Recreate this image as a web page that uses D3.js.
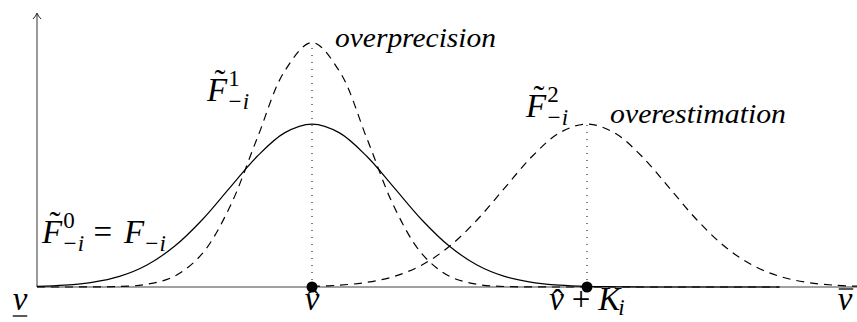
<!DOCTYPE html>
<html>
<head>
<meta charset="utf-8">
<script src="https://cdn.jsdelivr.net/npm/d3@7"></script>
</head>
<body style="margin:0">
<svg class="chart" width="857" height="322"></svg>
<script>
// sample points along the value axis (v, scaled so v_ = 0, v^ = 1, v^+K = 2)
var grid = [0, 0.1, 0.2, 0.3, 0.4, 0.5, 0.6, 0.7, 0.8, 0.9, 1.0, 1.1, 1.2, 1.3, 1.4, 1.5,
    1.6, 1.7, 1.8, 1.9, 2.0, 2.1, 2.2, 2.3, 2.4, 2.5, 2.6, 2.7, 2.8, 2.9, 3.0];

// F~0 = F (true belief), solid, on grid[0..27]
var trueBelief = [0.005, 0.015, 0.038, 0.087, 0.180, 0.332, 0.547, 0.807, 1.065, 1.258, 1.330,
    1.258, 1.065, 0.807, 0.547, 0.332, 0.180, 0.087, 0.038, 0.015, 0.005, 0.002, 0, 0, 0, 0, 0, 0];

// F~1 overprecision, dashed, on grid[0..27]
var overprecision = [0, 0, 0.001, 0.004, 0.022, 0.088, 0.270, 0.648, 1.210, 1.760, 1.995,
    1.760, 1.210, 0.648, 0.270, 0.088, 0.022, 0.004, 0.001, 0, 0, 0, 0, 0, 0, 0, 0, 0];

// F~2 overestimation, dashed, on grid[10..30]
var overestimation = [0.005, 0.015, 0.038, 0.087, 0.180, 0.332, 0.547, 0.807, 1.065, 1.258, 1.330,
    1.258, 1.065, 0.807, 0.547, 0.332, 0.180, 0.087, 0.038, 0.015, 0.005];

// marked points on the axis
var markValues = [1, 2];
var peakValues = [1.995, 1.330];

var width = 857,
    x0 = 37, y0 = 287,
    svg, x, y, line, series;

svg = d3.select('.chart');

x = d3.scaleLinear().domain([0, 3]).range([x0, x0 + 825]);
y = d3.scaleLinear().domain([0, 2.22]).range([y0, 15]);

line = d3.line()
    .x(function (d) { return x(d[0]); })
    .y(function (d) { return y(d[1]); })
    .curve(d3.curveCatmullRom);

function pairs(xs, ys, offset) {
    return ys.map(function (v, i) { return [xs[i + offset], v]; });
}

// axes
svg.append('line')
    .attr('x1', x0).attr('y1', y0).attr('x2', width).attr('y2', y0)
    .attr('stroke', '#808080').attr('stroke-width', 1.6);
svg.append('line')
    .attr('x1', x0).attr('y1', y0).attr('x2', x0).attr('y2', 14)
    .attr('stroke', '#808080').attr('stroke-width', 1.6);
svg.append('path')
    .attr('d', 'M' + (x0 - 4) + ',19 Q' + (x0 - 1) + ',16 ' + x0 + ',13 Q' + (x0 + 1) + ',16 ' + (x0 + 4) + ',19')
    .attr('fill', 'none').attr('stroke', '#222').attr('stroke-width', 1);

// dotted guides from the peaks
svg.selectAll('line.guide')
    .data(markValues)
    .enter().append('line')
    .attr('class', 'guide')
    .attr('x1', function (d) { return x(d); })
    .attr('x2', function (d) { return x(d); })
    .attr('y1', y(0))
    .attr('y2', function (d, i) { return y(peakValues[i]); })
    .attr('stroke', '#000').attr('stroke-width', 1)
    .attr('stroke-dasharray', '1,6');

series = [
    {data: pairs(grid, trueBelief, 0), dash: null},
    {data: pairs(grid, overprecision, 0), dash: '8,6'},
    {data: pairs(grid, overestimation, 10), dash: '8,6'}
];

svg.selectAll('path.curve')
    .data(series)
    .enter().append('path')
    .attr('class', 'curve')
    .attr('d', function (d) { return line(d.data); })
    .attr('fill', 'none')
    .attr('stroke', '#000')
    .attr('stroke-width', 1.2)
    .attr('stroke-dasharray', function (d) { return d.dash; });

svg.selectAll('circle.mark')
    .data(markValues)
    .enter().append('circle')
    .attr('class', 'mark')
    .attr('cx', function (d) { return x(d); })
    .attr('cy', y(0))
    .attr('r', 5.5)
    .attr('fill', '#000');

function addText(tx, ty, size, italic, s) {
    var t = svg.append('text').attr('x', tx).attr('y', ty).attr('font-size', size)
        .attr('font-family', 'Times New Roman');
    if (italic) { t.attr('font-style', 'italic'); }
    return t.text(s);
}

// little math typesetter: base glyphs, stacked sup/sub scripts, accents
// w = rough advance width in em of the serif font
function math(px, py, items, anchor) {
    var cur = 0, sx = null, sw = 0, total = 0;
    items.forEach(function (it) {
        var script = it.pos === 'sup' || it.pos === 'sub';
        if (script) {
            if (sx === null) { sx = total; }
            sw = Math.max(sw, (it.dx || 0) + it.w * 23);
        } else {
            if (sx !== null) { total = sx + sw; sx = null; sw = 0; }
            total += (it.dx || 0) + it.w * 33 + (it.after || 0);
        }
    });
    if (sx !== null) { total = sx + sw; }
    if (anchor === 'middle') { px -= total / 2; }
    sx = null; sw = 0;
    items.forEach(function (it) {
        var script = it.pos === 'sup' || it.pos === 'sub', size = script ? 23 : 33, tx, ty, w;
        if (script) {
            if (sx === null) { sx = cur; }
        } else if (sx !== null) {
            cur = sx + sw; sx = null; sw = 0;
        }
        tx = px + (script ? sx : cur) + (it.dx || 0);
        ty = py + (it.pos === 'sup' ? -15 : it.pos === 'sub' ? (it.drop || 8) : 0);
        addText(tx, ty, size, it.it, it.s);
        w = it.w * size;
        if (it.acc) {
            addText(tx + w / 2 + (it.skew || 0), ty + (it.accDy || 0), 33, false, it.acc)
                .attr('text-anchor', 'middle');
        }
        if (it.under) {
            svg.append('line').attr('x1', tx).attr('x2', tx + w).attr('y1', ty + 6).attr('y2', ty + 6)
                .attr('stroke', '#000').attr('stroke-width', 1.3);
        }
        if (it.over) {
            svg.append('line').attr('x1', tx + 1).attr('x2', tx + w + 1).attr('y1', ty - 21).attr('y2', ty - 21)
                .attr('stroke', '#000').attr('stroke-width', 1.3);
        }
        if (script) { sw = Math.max(sw, w + (it.dx || 0)); } else { cur += (it.dx || 0) + w + (it.after || 0); }
    });
}

function fTilde() {
    return {s: 'F', w: 0.61, it: true, acc: '\u02DC', skew: 3, accDy: -8};
}
var negI = {s: '\u2212i', w: 0.84, pos: 'sub', it: true};

math(42, 243, [fTilde(), {s: '0', w: 0.5, pos: 'sup', dx: 1}, negI,
    {s: '=', w: 0.56, dx: 12, after: 12}, {s: 'F', w: 0.61, it: true}, negI]);
math(207, 101, [fTilde(), {s: '1', w: 0.5, pos: 'sup', dx: 1}, negI]);
math(526, 117, [fTilde(), {s: '2', w: 0.5, pos: 'sup', dx: 1}, negI]);

addText(x(1) + 23, y(peakValues[0]) + 4, 28, true, 'overprecision')
    .attr('textLength', 161).attr('lengthAdjust', 'spacingAndGlyphs');
addText(x(2) + 23, y(peakValues[1]) - 1, 28, true, 'overestimation')
    .attr('textLength', 176).attr('lengthAdjust', 'spacingAndGlyphs');

// axis labels
var vHat = {s: 'v', w: 0.44, it: true, acc: '\u02C6', skew: 1, accDy: 3};
math(x(0) - 17, 310, [{s: 'v', w: 0.44, it: true, under: true}], 'middle');
math(x(1), 310, [vHat], 'middle');
math(x(2), 310, [vHat, {s: '+', w: 0.56, dx: 8, after: 8},
    {s: 'K', w: 0.67, it: true}, {s: 'i', w: 0.28, pos: 'sub', it: true, dx: -2, drop: 5}], 'middle');
math(x(3) - 17, 310, [{s: 'v', w: 0.44, it: true, over: true}], 'middle');
</script>
</body>
</html>
